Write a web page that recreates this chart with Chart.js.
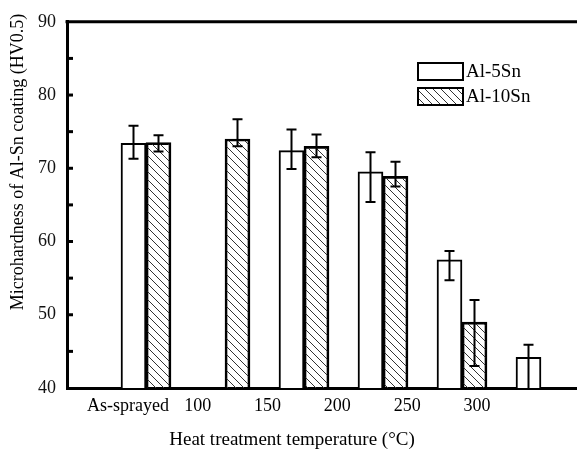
<!DOCTYPE html>
<html>
<head>
<meta charset="utf-8">
<script src="https://cdn.jsdelivr.net/npm/chart.js@4"></script>
<style>
  html, body { margin: 0; padding: 0; background: #fff; }
  #wrap { width: 577px; height: 456px; overflow: hidden; }
</style>
</head>
<body>
<div id="wrap"><canvas id="c" width="640" height="456"></canvas></div>
<script>
// categories on the x axis
const categories = ['As-sprayed', '100', '150', '200', '250', '300'];

// Al-5Sn microhardness, with error bar ends
const al5 = [73.4, null, 72.4, 69.5, 57.5, 44.2];
const al5Hi = [75.8, null, 75.3, 72.2, 58.7, 45.9];
const al5Lo = [71.3, null, 69.9, 65.4, 54.7, 39.0];

// Al-10Sn microhardness, with error bar ends
const al10 = [73.5, 74.0, 73.0, 68.9, 49.0, null];
const al10Hi = [74.5, 76.7, 74.6, 70.9, 52.0, null];
const al10Lo = [72.3, 73.0, 71.5, 67.5, 43.0, null];

// y axis ticks
const yTicks = [40, 50, 60, 70, 80, 90];

const serif = '"Liberation Serif", "Times New Roman", serif';

// diagonal hatch for Al-10Sn
function makeHatch() {
    const p = document.createElement('canvas');
    p.width = 8;
    p.height = 8;
    const g = p.getContext('2d');
    g.strokeStyle = '#333';
    g.lineWidth = 1;
    g.beginPath();
    g.moveTo(0, 0); g.lineTo(8, 8);
    g.moveTo(-2, 6); g.lineTo(2, 10);
    g.moveTo(6, -2); g.lineTo(10, 2);
    g.stroke();
    return g.createPattern(p, 'repeat');
}
const hatch = makeHatch();

const toPoints = arr => arr.map((v, i) => ({ x: i + 1, y: v }));

// error bars, inward y ticks, top frame, titles and legend
const extras = {
    id: 'extras',
    afterDatasetsDraw(chart) {
        const ctx = chart.ctx;
        const area = chart.chartArea;
        const y = chart.scales.y;
        const errs = [[al5Hi, al5Lo], [al10Hi, al10Lo]];

        ctx.save();
        ctx.beginPath();
        ctx.rect(area.left, area.top, area.right - area.left, area.bottom - area.top);
        ctx.clip();
        ctx.strokeStyle = '#000';
        ctx.lineWidth = 2;
        chart.data.datasets.forEach((ds, di) => {
            const meta = chart.getDatasetMeta(di);
            meta.data.forEach((bar, i) => {
                const hi = errs[di][0][i];
                const lo = errs[di][1][i];
                if (hi == null) return;
                const yh = y.getPixelForValue(hi);
                const yl = y.getPixelForValue(lo);
                ctx.beginPath();
                ctx.moveTo(bar.x, yh); ctx.lineTo(bar.x, yl);
                ctx.moveTo(bar.x - 5, yh); ctx.lineTo(bar.x + 5, yh);
                ctx.moveTo(bar.x - 5, yl); ctx.lineTo(bar.x + 5, yl);
                ctx.stroke();
            });
        });
        ctx.restore();

        ctx.save();
        // top frame line
        ctx.strokeStyle = '#000';
        ctx.lineWidth = 3;
        ctx.beginPath();
        ctx.moveTo(area.left - 1.5, area.top);
        ctx.lineTo(area.right, area.top);
        ctx.stroke();

        // inward ticks every 5 units
        for (let v = y.min + 5; v < y.max; v += 5) {
            const py = y.getPixelForValue(v);
            ctx.beginPath();
            ctx.moveTo(area.left, py);
            ctx.lineTo(area.left + 6, py);
            ctx.stroke();
        }

        // axis titles
        ctx.fillStyle = '#000';
        ctx.font = '19px ' + serif;
        ctx.textAlign = 'center';
        ctx.textBaseline = 'middle';
        ctx.fillText('Heat treatment temperature (\u00B0C)', 292, 440);
        ctx.font = '18px ' + serif;
        ctx.translate(18, 162);
        ctx.rotate(-Math.PI / 2);
        ctx.fillText('Microhardness of Al-Sn coating (HV0.5)', 0, 0);
        ctx.restore();

        // legend
        ctx.save();
        ctx.lineWidth = 2;
        ctx.strokeStyle = '#000';
        ctx.font = '19px ' + serif;
        ctx.textBaseline = 'middle';
        ctx.textAlign = 'left';
        chart.data.datasets.forEach((ds, di) => {
            const bx = 418, by = 63 + di * 25;
            ctx.fillStyle = ds.backgroundColor;
            ctx.fillRect(bx, by, 45, 17);
            ctx.strokeRect(bx, by, 45, 17);
            ctx.fillStyle = '#000';
            ctx.fillText(ds.label, bx + 48, by + 9);
        });
        ctx.restore();
    }
};

new Chart(document.getElementById('c'), {
    type: 'bar',
    data: {
        datasets: [
            {
                label: 'Al-5Sn',
                data: toPoints(al5),
                backgroundColor: '#fff',
                borderColor: '#000',
                borderWidth: 2,
                borderSkipped: false,
                barThickness: 25
            },
            {
                label: 'Al-10Sn',
                data: toPoints(al10),
                backgroundColor: hatch,
                borderColor: '#000',
                borderWidth: 2,
                borderSkipped: false,
                barThickness: 25
            }
        ]
    },
    options: {
        responsive: false,
        animation: false,
        layout: { padding: { top: 8, right: 20, left: 0, bottom: 0 } },
        plugins: {
            legend: { display: false },
            tooltip: { enabled: false }
        },
        scales: {
            x: {
                type: 'linear',
                min: 0,
                max: 7,
                offset: false,
                grid: { offset: false },
                display: false
            },
            x2: {
                type: 'linear',
                position: 'bottom',
                min: -0.874,
                max: 7.05,
                offset: false,
                afterBuildTicks: scale => {
                    scale.ticks = categories.map((c, i) => ({ value: i }));
                },
                afterFit: scale => { scale.height = 68; },
                grid: { display: false, drawTicks: false, offset: false },
                border: { display: true, width: 3, color: '#000' },
                ticks: {
                    callback: v => categories[v],
                    color: '#000',
                    font: { family: serif, size: 18 },
                    padding: 7,
                    maxRotation: 0,
                    autoSkip: false
                }
            },
            y: {
                min: 40,
                max: 90,
                afterBuildTicks: scale => {
                    scale.ticks = yTicks.map(v => ({ value: v }));
                },
                afterFit: scale => { scale.width = 67; },
                grid: { display: false, drawTicks: false },
                border: { display: true, width: 3, color: '#000' },
                ticks: {
                    color: '#111',
                    font: { family: serif, size: 18 },
                    padding: 11
                }
            }
        }
    },
    plugins: [extras]
});
</script>
</body>
</html>
